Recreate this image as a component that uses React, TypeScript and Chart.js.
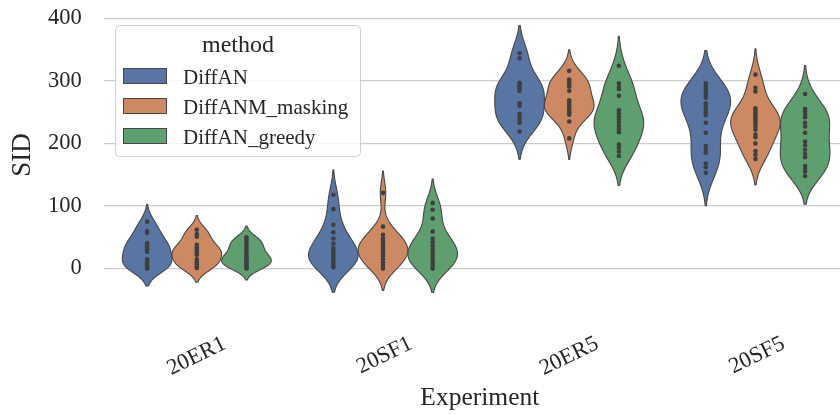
import { useEffect, useRef } from 'react';
import { Chart, registerables } from 'chart.js';

Chart.register(...registerables);

const FONT = "'Liberation Serif', 'Times New Roman', serif";
const TEXT = '#262626';

const CATEGORIES = ['20ER1', '20SF1', '20ER5', '20SF5'];
const METHODS = ['DiffAN', 'DiffANM_masking', 'DiffAN_greedy'];
const COLORS = ['#5975a4', '#cc8963', '#5f9e6e'];
const Y_TICKS = [0, 100, 200, 300, 400];

// SID values per experiment (20ER1, 20SF1, 20ER5, 20SF5)
const DIFFAN = [
  [75, 60, 57, 41, 38, 35, 31, 27, 15, 11, 8, 5, 2, 0],
  [118, 95, 70, 58, 48, 40, 33, 28, 24, 20, 16, 12, 8, 4, 2],
  [344, 336, 297, 294, 291, 288, 284, 264, 260, 247, 243, 238, 233, 219],
  [296, 291, 287, 283, 278, 273, 264, 260, 255, 250, 245, 233, 217, 196, 191, 185, 168, 162, 153],
];
const DIFFANM_MASKING = [
  [62, 55, 51, 38, 34, 31, 27, 25, 22, 15, 10, 7, 3, 1],
  [121, 67, 54, 48, 44, 40, 36, 32, 28, 24, 20, 15, 10, 5, 0],
  [316, 302, 298, 295, 291, 284, 269, 265, 261, 258, 254, 250, 246, 235, 208],
  [310, 289, 283, 256, 252, 248, 244, 240, 236, 232, 227, 222, 214, 210, 200, 188, 182, 175],
];
const DIFFAN_GREEDY = [
  [50, 46, 43, 38, 35, 30, 26, 22, 19, 16, 14, 12, 10, 7, 4, 2, 0],
  [105, 94, 80, 59, 48, 42, 37, 32, 27, 22, 17, 12, 8, 4, 0],
  [324, 296, 290, 287, 276, 253, 248, 243, 238, 233, 228, 223, 218, 198, 193, 187, 180],
  [279, 255, 251, 246, 242, 233, 227, 217, 203, 197, 190, 183, 178, 164, 159, 155, 148],
];

const SERIES = [DIFFAN, DIFFANM_MASKING, DIFFAN_GREEDY];
const HUE_WIDTH = 0.8 / METHODS.length;

function hueCenter(c: number, h: number) {
  return c + (h - (METHODS.length - 1) / 2) * HUE_WIDTH;
}

function kde(vals: number[]) {
  const n = vals.length;
  const mean = vals.reduce((a, b) => a + b, 0) / n;
  const sd = Math.sqrt(vals.reduce((a, b) => a + (b - mean) ** 2, 0) / (n - 1));
  const bw = sd * Math.pow(n, -0.2);
  const lo = Math.min(...vals) - 2 * bw;
  const hi = Math.max(...vals) + 2 * bw;
  const G = 100;
  const pts: { y: number; d: number }[] = [];
  for (let i = 0; i < G; i++) {
    const yv = lo + ((hi - lo) * i) / (G - 1);
    let d = 0;
    for (const v of vals) d += Math.exp(-0.5 * ((yv - v) / bw) ** 2);
    pts.push({ y: yv, d });
  }
  const m = Math.max(...pts.map((p) => p.d));
  return pts.map((p) => ({ y: p.y, w: p.d / m }));
}

// the axes extend a little past the right edge of the canvas, as in the reference
const AXES_RIGHT = 856;
const extendAxesPlugin = {
  id: 'extendAxes',
  afterLayout(chart: any) {
    const xs = chart.scales.x;
    xs.right = AXES_RIGHT;
    xs.width = AXES_RIGHT - xs.left;
    chart.chartArea.right = AXES_RIGHT;
    chart.chartArea.width = AXES_RIGHT - chart.chartArea.left;
    xs.configure();
  },
};

const violinPlugin = {
  id: 'violins',
  beforeDatasetsDraw(chart: any) {
    const { ctx, scales } = chart;
    const xs = scales.x;
    const ys = scales.y;
    ctx.save();
    SERIES.forEach((series, h) => {
      series.forEach((vals, c) => {
        const shape = kde(vals);
        const center = hueCenter(c, h);
        const half = HUE_WIDTH / 2;
        ctx.beginPath();
        shape.forEach((p, i) => {
          const px = xs.getPixelForValue(center - p.w * half);
          const py = ys.getPixelForValue(p.y);
          if (i === 0) ctx.moveTo(px, py);
          else ctx.lineTo(px, py);
        });
        for (let i = shape.length - 1; i >= 0; i--) {
          const p = shape[i];
          ctx.lineTo(xs.getPixelForValue(center + p.w * half), ys.getPixelForValue(p.y));
        }
        ctx.closePath();
        ctx.fillStyle = COLORS[h];
        ctx.fill();
        ctx.lineWidth = 1.1;
        ctx.strokeStyle = '#474747';
        ctx.lineJoin = 'round';
        ctx.stroke();
      });
    });
    ctx.restore();
  },
};

const legendPlugin = {
  id: 'mplLegend',
  afterDraw(chart: any) {
    const ctx = chart.ctx;
    ctx.save();
    const x0 = 115.5, y0 = 25.5, w = 245, hgt = 131, r = 4;
    ctx.beginPath();
    ctx.moveTo(x0 + r, y0);
    ctx.arcTo(x0 + w, y0, x0 + w, y0 + hgt, r);
    ctx.arcTo(x0 + w, y0 + hgt, x0, y0 + hgt, r);
    ctx.arcTo(x0, y0 + hgt, x0, y0, r);
    ctx.arcTo(x0, y0, x0 + w, y0, r);
    ctx.closePath();
    ctx.fillStyle = 'rgba(255,255,255,0.8)';
    ctx.fill();
    ctx.strokeStyle = '#d0d0d0';
    ctx.lineWidth = 1;
    ctx.stroke();

    ctx.fillStyle = TEXT;
    ctx.textBaseline = 'alphabetic';
    ctx.textAlign = 'center';
    ctx.font = `24px ${FONT}`;
    ctx.fillText('method', x0 + w / 2, 51.5);

    ctx.textAlign = 'left';
    ctx.font = `21px ${FONT}`;
    METHODS.forEach((m, i) => {
      const base = 83.5 + i * 30;
      ctx.fillStyle = COLORS[i];
      ctx.fillRect(123.5, base - 15, 43, 15);
      ctx.strokeStyle = '#474747';
      ctx.lineWidth = 1;
      ctx.strokeRect(123.5, base - 15, 43, 15);
      ctx.fillStyle = TEXT;
      ctx.fillText(m, 183, base);
    });
    ctx.restore();
  },
};

export default function App() {
  const ref = useRef<HTMLCanvasElement>(null);
  useEffect(() => {
    document.body.style.margin = '0';
    const datasets = METHODS.map((m, h) => ({
      label: m,
      data: SERIES[h].flatMap((vals, c) => vals.map((v) => ({ x: hueCenter(c, h), y: v }))),
      backgroundColor: '#3f3f3f',
      borderWidth: 0,
      pointRadius: 2.3,
      pointHoverRadius: 2.3,
    }));
    const chart = new Chart(ref.current as HTMLCanvasElement, {
      type: 'scatter',
      data: { datasets },
      plugins: [extendAxesPlugin, violinPlugin, legendPlugin],
      options: {
        responsive: false,
        animation: false,
        devicePixelRatio: 1,
        events: [],
        layout: { padding: { left: 0, top: 12, right: 0, bottom: 0 } },
        plugins: { legend: { display: false }, tooltip: { enabled: false } },
        font: { family: FONT },
        scales: {
          x: {
            type: 'linear',
            min: -0.5,
            max: 3.54,
            afterBuildTicks: (s: any) => {
              s.ticks = CATEGORIES.map((_, i) => ({ value: i }));
            },
            afterFit: (s: any) => {
              s.height = 116;
              s.paddingLeft = 0;
              s.paddingRight = 0;
              s.paddingTop = 0;
              s.paddingBottom = 0;
            },
            grid: { display: false, drawTicks: false },
            border: { display: false },
            ticks: {
              autoSkip: false,
              minRotation: 26,
              maxRotation: 26,
              labelOffset: 28,
              padding: 32.5,
              color: TEXT,
              font: { family: FONT, size: 22.5 },
              callback: (v: any) => CATEGORIES[Math.round(Number(v))],
            },
            title: {
              display: true,
              text: 'Experiment',
              color: TEXT,
              font: { family: FONT, size: 25.5 },
              padding: 0,
            },
          },
          y: {
            min: -47,
            max: 410,
            afterBuildTicks: (s: any) => {
              s.ticks = Y_TICKS.map((v) => ({ value: v }));
            },
            afterFit: (s: any) => {
              s.width = 103.7;
              s.paddingLeft = 0;
              s.paddingRight = 0;
              s.paddingTop = 0;
              s.paddingBottom = 0;
            },
            grid: { color: '#cccccc', lineWidth: 1.3, drawTicks: false },
            border: { display: false },
            ticks: {
              padding: 22,
              color: TEXT,
              font: { family: FONT, size: 22.5 },
            },
            title: {
              display: true,
              text: 'SID',
              color: TEXT,
              font: { family: FONT, size: 27 },
              padding: { top: 7, bottom: 0 },
            },
          },
        },
      } as any,
    });
    return () => chart.destroy();
  }, []);
  return (
    <div style={{ width: 840, height: 414 }}>
      <canvas ref={ref} width={840} height={414} style={{ display: 'block' }} />
    </div>
  );
}
